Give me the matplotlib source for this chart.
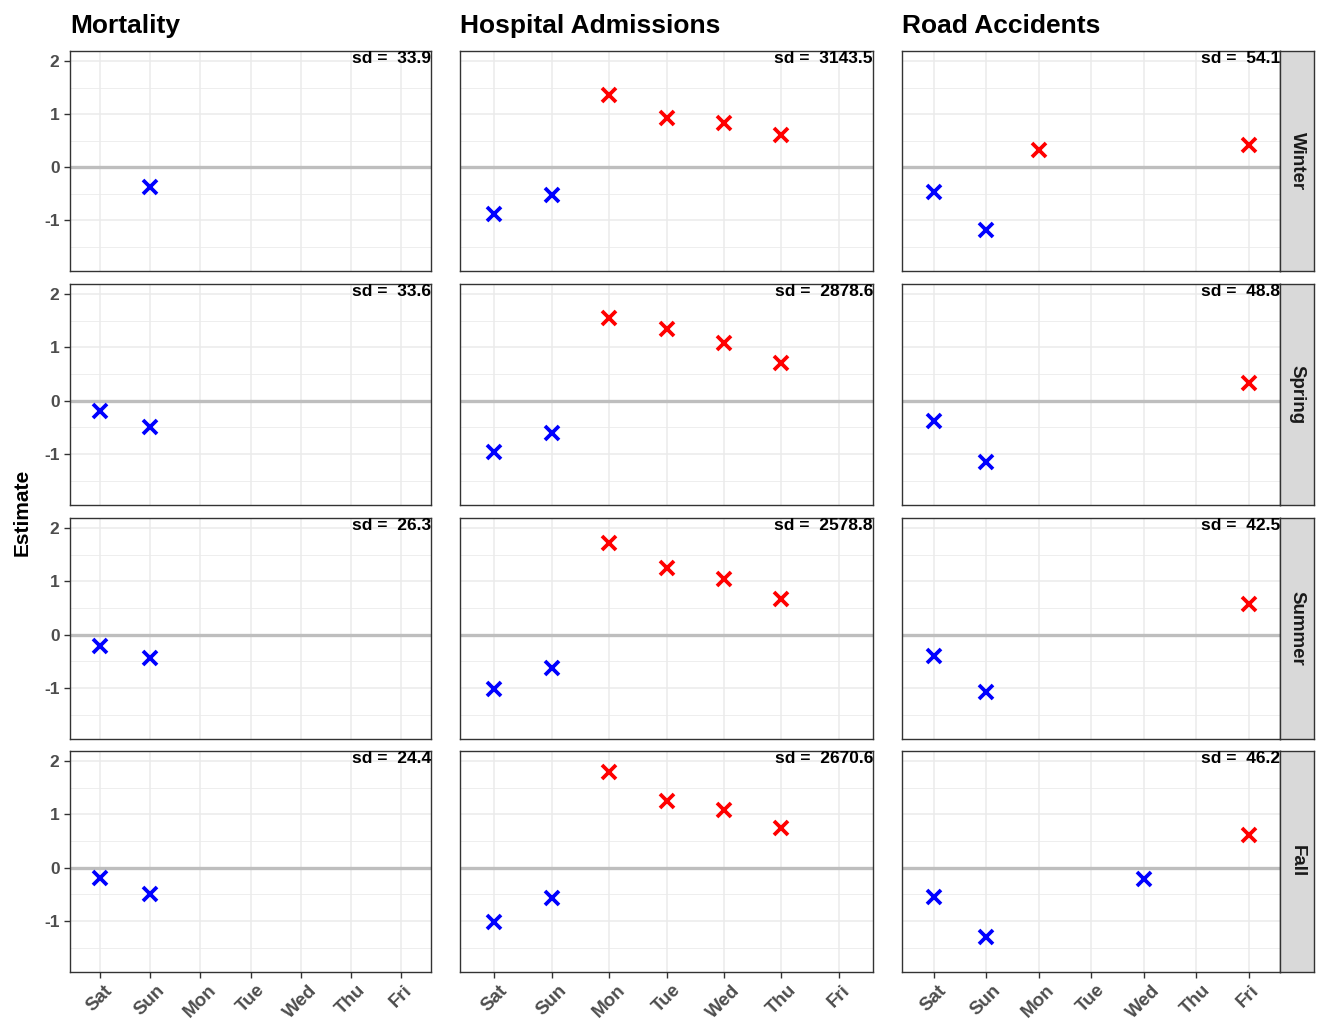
import numpy as np
import matplotlib.pyplot as plt

plt.rcParams['font.family'] = ['Liberation Sans', 'DejaVu Sans']

days = ['Sat', 'Sun', 'Mon', 'Tue', 'Wed', 'Thu', 'Fri']
seasons = ['Winter', 'Spring', 'Summer', 'Fall']
outcomes = ['Mortality', 'Hospital Admissions', 'Road Accidents']

# estimates per season (rows) and outcome (cols); None = not shown
mort_winter = [None, -0.37, None, None, None, None, None]
mort_spring = [-0.19, -0.49, None, None, None, None, None]
mort_summer = [-0.21, -0.43, None, None, None, None, None]
mort_fall = [-0.19, -0.49, None, None, None, None, None]

hosp_winter = [-0.89, -0.53, 1.36, 0.92, 0.83, 0.60, None]
hosp_spring = [-0.96, -0.60, 1.55, 1.34, 1.08, 0.70, None]
hosp_summer = [-1.02, -0.62, 1.72, 1.26, 1.04, 0.66, None]
hosp_fall = [-1.02, -0.57, 1.79, 1.25, 1.08, 0.75, None]

road_winter = [-0.47, -1.19, 0.32, None, None, None, 0.42]
road_spring = [-0.38, -1.15, None, None, None, None, 0.34]
road_summer = [-0.40, -1.08, None, None, None, None, 0.58]
road_fall = [-0.55, -1.30, None, None, -0.21, None, 0.62]

sd_mort = ['33.9', '33.6', '26.3', '24.4']
sd_hosp = ['3143.5', '2878.6', '2578.8', '2670.6']
sd_road = ['54.1', '48.8', '42.5', '46.2']

data = [
    [mort_winter, hosp_winter, road_winter],
    [mort_spring, hosp_spring, road_spring],
    [mort_summer, hosp_summer, road_summer],
    [mort_fall, hosp_fall, road_fall],
]
sds = [sd_mort, sd_hosp, sd_road]

W, H = 1318, 1022
fig = plt.figure(figsize=(W / 100, H / 100), dpi=100)

# panel positions in pixels
col_x = [(70, 431), (460, 873), (902, 1280)]
row_y = [(51, 271), (284, 505), (518, 739), (751, 972)]

def px_axes(x0, x1, y0, y1):
    return fig.add_axes([x0 / W, 1 - y1 / H, (x1 - x0) / W, (y1 - y0) / H])

for r in range(4):
    for c in range(3):
        x0, x1 = col_x[c]
        y0, y1 = row_y[r]
        ax = px_axes(x0, x1, y0, y1)
        vals = data[r][c]
        xs = [i for i, v in enumerate(vals) if v is not None]
        ys = [v for v in vals if v is not None]
        ax.axhline(0, color='#bebebe', lw=2.4, zorder=1)
        for xi, yi in zip(xs, ys):
            ax.plot(xi, yi, marker='x', ms=10, mew=2.7, color='red' if yi > 0 else 'blue',
                    ls='none', zorder=3)
        ax.set_xlim(-0.6, 6.6)
        ax.set_ylim(-1.96, 2.19)
        ax.set_xticks(range(7))
        ax.set_yticks([-1, 0, 1, 2])
        ax.set_yticks([-1.5, -0.5, 0.5, 1.5], minor=True)
        ax.grid(True, which='major', color='#ebebeb', lw=1.1, zorder=0)
        ax.grid(True, which='minor', axis='y', color='#ebebeb', lw=0.6, zorder=0)
        ax.set_axisbelow(True)
        for s in ax.spines.values():
            s.set_color('#333333')
            s.set_linewidth(1.0)
        ax.tick_params(which='minor', length=0)
        ax.tick_params(which='major', length=4, color='#333333', width=1,
                       labelsize=12.5, labelcolor='#4d4d4d')
        if r == 3:
            ax.set_xticklabels(days, rotation=45, ha='center', va='top',
                               fontweight='bold', fontsize=13.5)
            ax.tick_params(axis='x', pad=3)
        else:
            ax.tick_params(axis='x', length=0, labelbottom=False)
        if c == 0:
            ax.set_yticklabels(['-1', '0', '1', '2'], fontweight='bold')
        else:
            ax.tick_params(axis='y', length=0, labelleft=False)
        ax.text(1.0, 1.0, 'sd =  ' + sds[c][r], transform=ax.transAxes,
                ha='right', va='top', fontsize=12.5, fontweight='bold', color='black')
        if r == 0:
            ax.text(0, 1.06, outcomes[c], transform=ax.transAxes, ha='left', va='bottom',
                    fontsize=19, fontweight='bold')
        if c == 2:
            sx = px_axes(1280, 1314, y0, y1)
            sx.set_facecolor('#d9d9d9')
            sx.set_xticks([])
            sx.set_yticks([])
            for s in sx.spines.values():
                s.set_color('#333333')
                s.set_linewidth(1.0)
            sx.text(0.5, 0.5, seasons[r], rotation=-90, ha='center', va='center',
                    fontsize=13.5, fontweight='bold', color='#1a1a1a', transform=sx.transAxes)

fig.text(22 / W, 1 - 512 / H, 'Estimate', rotation=90, ha='center', va='center',
         fontsize=15, fontweight='bold')

fig.savefig('out.png', dpi=100, facecolor='white')
